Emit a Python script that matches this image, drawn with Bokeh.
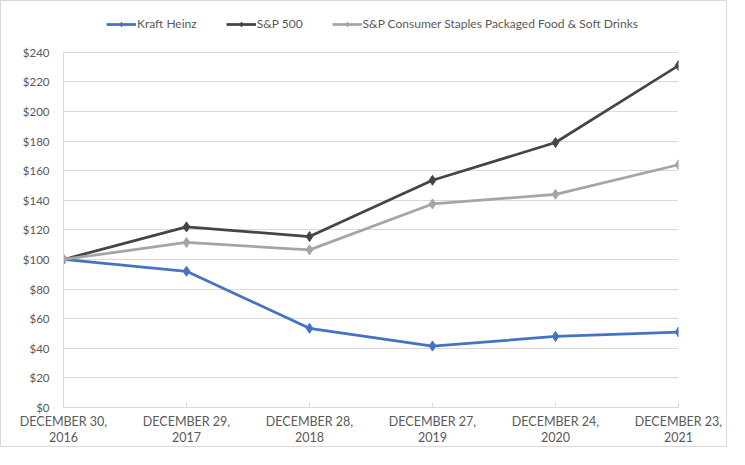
from bokeh.plotting import figure
from bokeh.models import FixedTicker, Range1d, Legend
from bokeh.embed import file_html
from bokeh.resources import INLINE

categories = ["DECEMBER 30,\n2016", "DECEMBER 29,\n2017", "DECEMBER 28,\n2018",
              "DECEMBER 27,\n2019", "DECEMBER 24,\n2020", "DECEMBER 23,\n2021"]
kraft_heinz = [100, 92, 53.5, 41.5, 48, 51]
sp500 = [100, 122, 115.5, 153.5, 179, 231]
staples = [100, 111.5, 106.5, 137.5, 144, 164]
y_ticks = [0, 20, 40, 60, 80, 100, 120, 140, 160, 180, 200, 220, 240]
y_tick_labels = ["$" + str(t) for t in y_ticks]

FONT = "Lato"
TXT = "#595959"

p = figure(width=727, height=447, output_backend="svg", toolbar_location=None,
           x_range=Range1d(0, len(categories) - 1), y_range=Range1d(0, 268.2),
           min_border_left=62, min_border_right=50, min_border_top=9, min_border_bottom=35,
           styles={"border": "1px solid #D9D9D9"})
p.outline_line_color = None
p.border_fill_color = "white"
p.background_fill_color = "white"

xs = list(range(len(categories)))
series = [("Kraft Heinz", kraft_heinz, "#4472C4"),
          ("S&P 500", sp500, "#454545"),
          ("S&P Consumer Staples Packaged Food & Soft Drinks", staples, "#A5A5A5")]
items = []
for name, ys, col in series:
    r1 = p.line(xs, ys, line_color=col, line_width=2.75)
    r2 = p.scatter(xs, ys, marker="diamond", size=10, fill_color=col, line_color=col)
    items.append((name, [r1, r2]))

p.xaxis.ticker = FixedTicker(ticks=xs)
p.xaxis.major_label_overrides = {i: c for i, c in enumerate(categories)}
p.xaxis.major_label_text_font = FONT
p.xaxis.major_label_text_font_size = "12.5px"
p.xaxis.major_label_text_color = TXT
p.xaxis.major_label_text_line_height = 1.1
p.xaxis.axis_line_color = "#D9D9D9"
p.xaxis.major_tick_line_color = "#D9D9D9"
p.xaxis.major_tick_in = 5
p.xaxis.major_tick_out = 0
p.xaxis.minor_tick_line_color = None
p.xaxis.major_label_standoff = 6

p.yaxis.ticker = FixedTicker(ticks=y_ticks)
p.yaxis.bounds = (0, 240)
p.yaxis.major_label_overrides = {t: l for t, l in zip(y_ticks, y_tick_labels)}
p.yaxis.major_label_text_font = FONT
p.yaxis.major_label_text_font_size = "11.5px"
p.yaxis.major_label_text_color = TXT
p.yaxis.axis_line_color = "#D9D9D9"
p.yaxis.major_tick_line_color = None
p.yaxis.minor_tick_line_color = None
p.yaxis.major_label_standoff = 8

p.xgrid.grid_line_color = None
p.ygrid.grid_line_color = "#D9D9D9"

legend = Legend(items=items, orientation="horizontal", location=(43, 376),
                label_text_font=FONT, label_text_font_size="12px", label_text_color=TXT,
                glyph_width=30, glyph_height=12, spacing=29, padding=4, margin=0,
                label_standoff=1, border_line_color=None, background_fill_alpha=0)
p.add_layout(legend, "center")

open("out.html", "w").write(file_html(p, INLINE))
